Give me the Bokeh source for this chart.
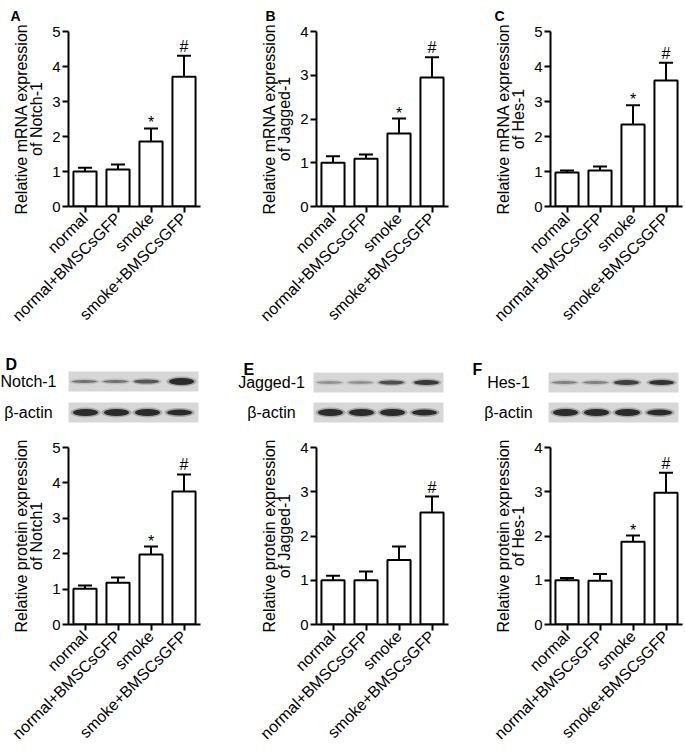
import math
from bokeh.plotting import figure
from bokeh.layouts import column, row
from bokeh.models import Range1d, FactorRange, Whisker, TeeHead, ColumnDataSource
from bokeh.embed import file_html
from bokeh.resources import INLINE
from bokeh.core.properties import value

# ---------------- data ----------------
groups = ["normal", "normal+BMSCsGFP", "smoke", "smoke+BMSCsGFP"]

mrna_notch1 = [1.00, 1.06, 1.86, 3.71]
mrna_notch1_err = [0.11, 0.14, 0.37, 0.60]
mrna_jagged1 = [1.00, 1.09, 1.67, 2.95]
mrna_jagged1_err = [0.15, 0.10, 0.34, 0.46]
mrna_hes1 = [0.97, 1.03, 2.34, 3.60]
mrna_hes1_err = [0.06, 0.11, 0.55, 0.51]

prot_notch1 = [1.01, 1.18, 1.98, 3.76]
prot_notch1_err = [0.09, 0.15, 0.22, 0.48]
prot_jagged1 = [1.00, 1.00, 1.46, 2.53]
prot_jagged1_err = [0.10, 0.20, 0.30, 0.36]
prot_hes1 = [1.00, 0.99, 1.87, 2.98]
prot_hes1_err = [0.05, 0.15, 0.14, 0.45]

marks_a = ["", "", "*", "#"]
marks_b = ["", "", "*", "#"]
marks_c = ["", "", "*", "#"]
marks_d = ["", "", "*", "#"]
marks_e = ["", "", "", "#"]
marks_f = ["", "", "*", "#"]

blot_targets = ["Notch-1", "Jagged-1", "Hes-1"]
blot_loading = "β-actin"
# relative band darkness (0-1) and band thickness per lane
notch1_band_dark = [0.55, 0.55, 0.70, 1.00]
notch1_band_thick = [3, 3, 4, 7]
jagged1_band_dark = [0.35, 0.35, 0.75, 0.90]
jagged1_band_thick = [3, 3, 4, 5]
hes1_band_dark = [0.45, 0.45, 0.85, 0.95]
hes1_band_thick = [3, 3, 5, 5]
actin_band_dark = [1.0, 1.0, 1.0, 1.0]
actin_band_thick = [7, 7, 7, 6]

panel_letters = ["A", "B", "C", "D", "E", "F"]

# ---------------- layout constants ----------------
FONT = "Liberation Sans"
PAGE_W = 685
COL_BORDERS = [(68, 40), (76, 26), (76, 3)]   # left, right border of each chart column
FRAME_W = 132
TOP_LETTER_OFFSET = [10 - 68, 265 - 316, 494 - 550]


def chart(vals, errs, marks, ymax, ylabel, col, top, fh, bottom, letter=None):
    left, right = COL_BORDERS[col]
    p = figure(x_range=FactorRange(*groups), y_range=Range1d(0, ymax),
               frame_width=FRAME_W, frame_height=fh,
               min_border_left=left, min_border_right=right,
               min_border_top=top, min_border_bottom=bottom,
               toolbar_location=None, output_backend="svg")
    p.outline_line_color = None
    p.grid.visible = False
    p.background_fill_color = "white"
    p.border_fill_color = "white"

    upper = [v + e for v, e in zip(vals, errs)]
    yoff = [3 if m == "*" else -1 for m in marks]
    src = ColumnDataSource(dict(x=groups, top=vals, upper=upper, marks=marks, yoff=yoff))
    p.vbar(x="x", top="top", width=0.7, source=src, fill_color="white",
           line_color="black", line_width=2)
    w = Whisker(source=src, base="x", lower="top", upper="upper", dimension="height",
                line_color="black", line_width=2,
                upper_head=TeeHead(size=14, line_color="black", line_width=2),
                lower_head=None)
    p.add_layout(w)
    p.text(x="x", y="upper", text="marks", source=src, text_align="center",
           text_baseline="bottom", y_offset="yoff", text_font=value(FONT),
           text_font_size="16px", text_color="black")

    for ax in (p.xaxis[0], p.yaxis[0]):
        ax.axis_line_width = 2
        ax.axis_line_color = "black"
        ax.major_tick_line_width = 2
        ax.major_tick_line_color = "black"
        ax.major_tick_out = 6
        ax.major_tick_in = 0
        ax.minor_tick_line_color = None
        ax.major_label_text_font = FONT
        ax.major_label_text_color = "black"
    p.yaxis.ticker = list(range(ymax + 1))
    p.yaxis.major_label_text_font_size = "15px"
    p.yaxis.major_label_standoff = 2
    p.yaxis.axis_label = ylabel
    p.yaxis.axis_label_text_font = FONT
    p.yaxis.axis_label_text_font_size = "16px"
    p.yaxis.axis_label_text_font_style = "normal"
    p.yaxis.axis_label_text_color = "black"
    p.yaxis.axis_label_text_line_height = 0.9
    p.yaxis.axis_label_standoff = 4
    p.xaxis.major_label_orientation = math.pi / 4
    p.xaxis.major_label_text_font_size = "16px"
    p.xaxis.major_label_standoff = 3

    if letter is not None:
        p.title.text = letter
        p.title.align = "left"
        p.title.offset = TOP_LETTER_OFFSET[col]
        p.title.standoff = 11
        p.title.vertical_align = "top"
        p.title.text_font = FONT
        p.title.text_font_size = "14px"
        p.title.text_font_style = "bold"
        p.title.text_color = "black"
    return p


def canvas(y0, y1):
    p = figure(x_range=Range1d(0, PAGE_W), y_range=Range1d(y1, y0),
               width=PAGE_W, height=y1 - y0, min_border=0,
               x_axis_location=None, y_axis_location=None,
               toolbar_location=None, output_backend="svg")
    p.outline_line_color = None
    p.grid.visible = False
    return p


# ---------------- top row: mRNA ----------------
mlab = "Relative mRNA expression\nof "
pa = chart(mrna_notch1, mrna_notch1_err, marks_a, 5, mlab + "Notch-1", 0, 31, 175, 139, panel_letters[0])
pb = chart(mrna_jagged1, mrna_jagged1_err, marks_b, 4, mlab + "Jagged-1", 1, 31, 175, 139, panel_letters[1])
pc = chart(mrna_hes1, mrna_hes1_err, marks_c, 5, mlab + "Hes-1", 2, 31, 175, 139, panel_letters[2])

# ---------------- blot strip ----------------
blot = canvas(345, 432)
BOX_LEFT = [68, 313, 548]
BOX_W = 130
TARGET_Y = [381, 382, 382]
ACTIN_Y = 412
BOX_H = 20
LANE_OFF = [16, 47, 78, 113]
ACTIN_OFF = [17, 48, 79, 111]
LABEL_X = [28, 271, 508]
LETTER_POS = [(5, 364), (243, 369), (472, 369)]
band_sets = [(notch1_band_dark, notch1_band_thick),
             (jagged1_band_dark, jagged1_band_thick),
             (hes1_band_dark, hes1_band_thick)]

for k in range(3):
    bl = BOX_LEFT[k]
    blot.rect(x=[bl + BOX_W / 2] * 2, y=[TARGET_Y[k], ACTIN_Y], width=BOX_W, height=BOX_H,
              fill_color="#d7d7d7", line_color=None)
    dark, thick = band_sets[k]
    for offs, yc, dk, th in ((LANE_OFF, TARGET_Y[k], dark, thick),
                             (ACTIN_OFF, ACTIN_Y, actin_band_dark, actin_band_thick)):
        xs = [bl + o for o in offs]
        blot.ellipse(x=xs, y=[yc] * 4, width=30, height=[t + 3 for t in th],
                     fill_color="#1c1c1c", fill_alpha=[0.25 * d for d in dk], line_color=None)
        blot.ellipse(x=xs, y=[yc] * 4, width=25, height=th,
                     fill_color="#151515", fill_alpha=[0.85 * d for d in dk], line_color=None)
    blot.text(x=[LABEL_X[k]] * 2, y=[TARGET_Y[k], ACTIN_Y], text=[blot_targets[k], blot_loading],
              text_align="center", text_baseline="middle", text_font=value(FONT),
              text_font_size="16px", text_color="black")
    lx, ly = LETTER_POS[k]
    blot.text(x=[lx], y=[ly], text=[panel_letters[3 + k]], text_font=value(FONT),
              text_font_style="bold", text_font_size="16px", text_baseline="alphabetic",
              text_color="black")

# ---------------- bottom row: protein ----------------
plab = "Relative protein expression\nof "
pd_ = chart(prot_notch1, prot_notch1_err, marks_d, 5, plab + "Notch1", 0, 15, 177, 132)
pe = chart(prot_jagged1, prot_jagged1_err, marks_e, 4, plab + "Jagged-1", 1, 15, 177, 132)
pf = chart(prot_hes1, prot_hes1_err, marks_f, 4, plab + "Hes-1", 2, 15, 177, 132)

root = column(row(pa, pb, pc), blot, row(pd_, pe, pf))
open("out.html", "w").write(file_html(root, INLINE))
